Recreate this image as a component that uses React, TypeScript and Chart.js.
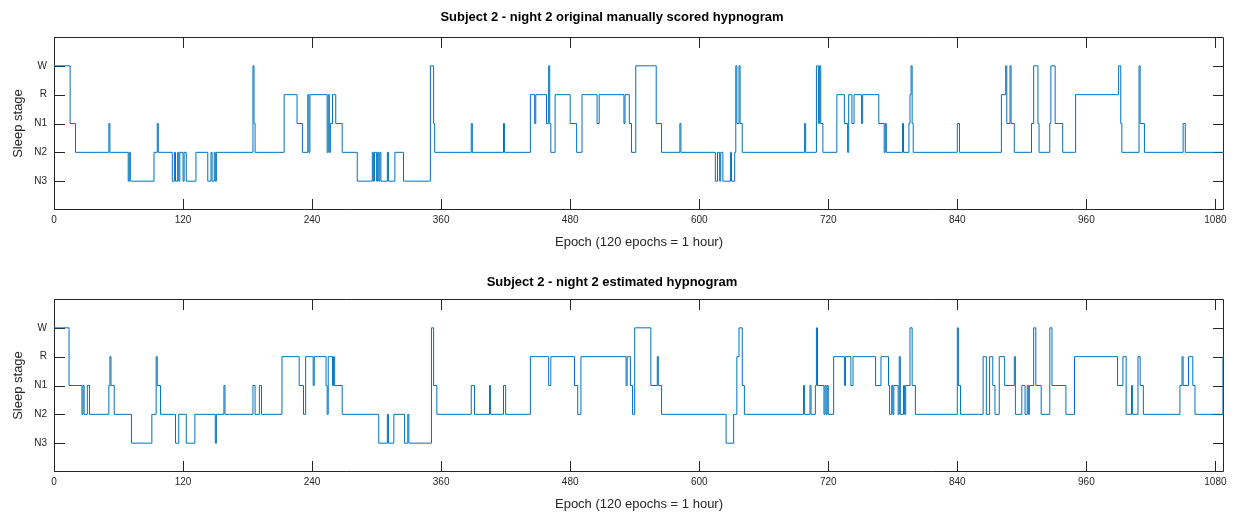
import React, { useEffect, useRef } from 'react';
import { Chart, registerables } from 'chart.js';

Chart.register(...registerables);

const stageLevels = ['N3', 'N2', 'N1', 'R', 'W'];
const xTickValues = [0, 120, 240, 360, 480, 600, 720, 840, 960, 1080];
const totalEpochs = 1088;

const manualTitle = 'Subject 2 - night 2 original manually scored hypnogram';
const estimatedTitle = 'Subject 2 - night 2 estimated hypnogram';
const xAxisLabel = 'Epoch (120 epochs = 1 hour)';
const yAxisLabel = 'Sleep stage';

// epochs where the manually scored stage changes, and the stage from that epoch on
const manualStart = [
  0, 15, 20, 51, 52, 69, 70, 71, 93, 96, 97, 110, 112, 113, 115, 116, 117, 120, 121, 123,
  132, 143, 146, 147, 149, 150, 151, 185, 186, 187, 214, 226, 231, 236, 237, 238, 254, 255, 256, 257,
  259, 262, 268, 282, 296, 297, 298, 300, 301, 302, 303, 304, 310, 311, 317, 325, 350, 353, 354, 388,
  389, 418, 419, 443, 447, 448, 458, 460, 461, 462, 466, 480, 486, 491, 505, 507, 530, 531, 535, 537,
  541, 560, 565, 582, 583, 615, 617, 619, 620, 622, 629, 630, 633, 634, 635, 637, 638, 640, 698, 699,
  709, 711, 712, 713, 715, 728, 735, 738, 739, 742, 744, 751, 752, 767, 772, 773, 774, 789, 790, 795,
  796, 797, 798, 799, 840, 842, 881, 885, 886, 889, 890, 893, 909, 911, 915, 916, 926, 927, 931, 938,
  950, 990, 992, 993, 1009, 1010, 1014, 1050, 1052,
];
const manualStage = [
  'W', 'N1', 'N2', 'N1', 'N2', 'N3', 'N2', 'N3', 'N2', 'N1', 'N2', 'N3', 'N2', 'N3', 'N2', 'N3', 'N2', 'N3', 'N2', 'N3',
  'N2', 'N3', 'N2', 'N3', 'N2', 'N3', 'N2', 'W', 'N1', 'N2', 'R', 'N1', 'N2', 'R', 'N2', 'R', 'N2', 'R', 'N2', 'N1',
  'R', 'N1', 'N2', 'N3', 'N2', 'N3', 'N2', 'N3', 'N2', 'N3', 'N2', 'N3', 'N2', 'N3', 'N2', 'N3', 'W', 'N1', 'N2', 'N1',
  'N2', 'N1', 'N2', 'R', 'N1', 'R', 'N1', 'W', 'N1', 'N2', 'R', 'N1', 'N2', 'R', 'N1', 'R', 'N1', 'R', 'N1', 'N2',
  'W', 'N1', 'N2', 'N1', 'N2', 'N3', 'N2', 'N3', 'N2', 'N3', 'N2', 'N3', 'N2', 'W', 'N1', 'W', 'N1', 'N2', 'N1', 'N2',
  'W', 'N1', 'W', 'N1', 'N2', 'R', 'N1', 'N2', 'R', 'N1', 'R', 'N1', 'R', 'N1', 'N2', 'N1', 'N2', 'N1', 'N2', 'N1',
  'R', 'W', 'N1', 'N2', 'N1', 'N2', 'R', 'W', 'N1', 'W', 'N1', 'N2', 'N1', 'W', 'N1', 'N2', 'N1', 'W', 'N1', 'N2',
  'R', 'W', 'N1', 'N2', 'W', 'N1', 'N2', 'N1', 'N2',
];

// epochs where the estimated stage changes, and the stage from that epoch on
const estimatedStart = [
  0, 14, 26, 27, 28, 31, 33, 51, 52, 53, 56, 72, 91, 95, 96, 99, 113, 116, 123, 131,
  150, 151, 158, 159, 185, 187, 191, 193, 212, 228, 232, 234, 241, 242, 253, 254, 255, 259, 260, 261,
  268, 302, 310, 311, 316, 326, 329, 330, 351, 353, 356, 388, 391, 405, 406, 418, 420, 443, 460, 462,
  484, 487, 490, 532, 533, 536, 538, 540, 555, 561, 562, 565, 625, 632, 635, 637, 640, 642, 697, 698,
  703, 704, 708, 709, 710, 716, 717, 718, 719, 720, 725, 735, 736, 741, 743, 764, 769, 776, 777, 779,
  780, 781, 785, 786, 787, 790, 791, 792, 796, 798, 801, 840, 841, 843, 864, 867, 870, 873, 875, 879,
  884, 893, 894, 900, 903, 905, 906, 907, 911, 913, 918, 926, 928, 941, 949, 989, 994, 997, 1002, 1003,
  1008, 1010, 1013, 1047, 1049, 1050, 1055, 1059, 1061, 1087,
];
const estimatedStage = [
  'W', 'N1', 'N2', 'N1', 'N2', 'N1', 'N2', 'N1', 'R', 'N1', 'N2', 'N3', 'N2', 'R', 'N1', 'N2', 'N3', 'N2', 'N3', 'N2',
  'N3', 'N2', 'N1', 'N2', 'N1', 'N2', 'N1', 'N2', 'R', 'N1', 'N2', 'R', 'N1', 'R', 'N1', 'N2', 'R', 'N1', 'R', 'N1',
  'N2', 'N3', 'N2', 'N3', 'N2', 'N3', 'N2', 'N3', 'W', 'N1', 'N2', 'N1', 'N2', 'N1', 'N2', 'N1', 'N2', 'R', 'N1', 'R',
  'N1', 'N2', 'R', 'N1', 'R', 'N1', 'N2', 'W', 'N1', 'R', 'N1', 'N2', 'N3', 'N2', 'R', 'W', 'N1', 'N2', 'N1', 'N2',
  'N1', 'N2', 'N1', 'W', 'N1', 'N2', 'N1', 'N2', 'N1', 'N2', 'R', 'N1', 'R', 'N1', 'R', 'N1', 'R', 'N1', 'N2', 'N1',
  'N2', 'N1', 'N2', 'R', 'N2', 'N1', 'N2', 'N1', 'W', 'N1', 'N2', 'W', 'N1', 'N2', 'R', 'N2', 'R', 'N1', 'N2', 'R',
  'N1', 'R', 'N2', 'N1', 'N2', 'N1', 'N2', 'N1', 'W', 'N1', 'N2', 'W', 'N1', 'N2', 'R', 'N1', 'R', 'N2', 'N1', 'N2',
  'R', 'N1', 'N2', 'N1', 'R', 'N1', 'R', 'N1', 'N2', 'R',
];

const FONT = '"Liberation Sans", Arial, Helvetica, sans-serif';
const AXIS_COLOR = '#262626';
const LINE_COLOR = '#0072BD';

function buildPoints(starts: number[], stages: string[]) {
  const pts = starts.map((s, i) => ({ x: s, y: stageLevels.indexOf(stages[i]) }));
  pts.push({ x: totalEpochs, y: stageLevels.indexOf(stages[stages.length - 1]) });
  return pts;
}

const boxPlugin = {
  id: 'matlabBox',
  beforeDatasetsDraw(chart: any) {
    const { ctx, chartArea, scales } = chart;
    const { left, right, top, bottom } = chartArea;
    const tl = 11;
    ctx.save();
    ctx.strokeStyle = AXIS_COLOR;
    ctx.lineWidth = 1;
    ctx.beginPath();
    ctx.rect(left + 0.5, top + 0.5, right - left - 1, bottom - top - 1);
    scales.x.ticks.forEach((t: any) => {
      const px = Math.round(scales.x.getPixelForValue(t.value)) + 0.5;
      ctx.moveTo(px, bottom);
      ctx.lineTo(px, bottom - tl);
      ctx.moveTo(px, top);
      ctx.lineTo(px, top + tl);
    });
    scales.y.ticks.forEach((t: any) => {
      const py = Math.round(scales.y.getPixelForValue(t.value)) + 0.5;
      ctx.moveTo(left, py);
      ctx.lineTo(left + tl, py);
      ctx.moveTo(right, py);
      ctx.lineTo(right - tl, py);
    });
    ctx.stroke();
    ctx.restore();
  },
};

type Props = {
  title: string;
  starts: number[];
  stages: string[];
  height: number;
  titlePadTop: number;
  titlePadBottom: number;
  xAxisHeight: number;
  xTitlePadBottom: number;
};

function Hypnogram({ title, starts, stages, height, titlePadTop, titlePadBottom, xAxisHeight, xTitlePadBottom }: Props) {
  const ref = useRef<HTMLCanvasElement | null>(null);
  useEffect(() => {
    if (!ref.current) return;
    const chart = new Chart(ref.current, {
      type: 'line',
      data: {
        datasets: [
          {
            data: buildPoints(starts, stages),
            borderColor: LINE_COLOR,
            borderWidth: 1,
            pointRadius: 0,
            stepped: true,
            fill: false,
            tension: 0,
          },
        ],
      },
      options: {
        animation: false,
        responsive: false,
        events: [],
        layout: { padding: { left: 0, right: 14, top: 0, bottom: 0 } },
        plugins: {
          legend: { display: false },
          tooltip: { enabled: false },
          title: {
            display: true,
            text: title,
            color: '#000000',
            font: { family: FONT, size: 13, weight: 'bold', lineHeight: '16px' },
            padding: { top: titlePadTop, bottom: titlePadBottom },
          },
        },
        scales: {
          x: {
            type: 'linear',
            min: 0,
            max: totalEpochs,
            afterBuildTicks: (s: any) => {
              s.ticks = xTickValues.map((v) => ({ value: v }));
            },
            afterFit: (s: any) => {
              s.height = xAxisHeight;
            },
            ticks: {
              autoSkip: false,
              maxRotation: 0,
              padding: 4,
              color: AXIS_COLOR,
              font: { family: FONT, size: 10 },
              callback: (v: any) => String(v),
            },
            grid: { display: false, drawTicks: false },
            border: { display: false },
            title: {
              display: true,
              text: xAxisLabel,
              color: AXIS_COLOR,
              font: { family: FONT, size: 13, lineHeight: '16px' },
              padding: { top: 0, bottom: xTitlePadBottom },
            },
          },
          y: {
            type: 'linear',
            min: -1,
            max: 5,
            afterBuildTicks: (s: any) => {
              s.ticks = stageLevels.map((_, i) => ({ value: i }));
            },
            afterFit: (s: any) => {
              s.width = 54;
            },
            ticks: {
              autoSkip: false,
              padding: 7,
              color: AXIS_COLOR,
              font: { family: FONT, size: 10 },
              callback: (v: any) => (stageLevels[v] !== undefined ? stageLevels[v] : ''),
            },
            grid: { display: false, drawTicks: false },
            border: { display: false },
            title: {
              display: true,
              text: yAxisLabel,
              color: AXIS_COLOR,
              font: { family: FONT, size: 13, lineHeight: '16px' },
              padding: { top: 10, bottom: 0 },
            },
          },
        },
      },
      plugins: [boxPlugin],
    } as any);
    return () => chart.destroy();
  }, [title, starts, stages, height, titlePadTop, titlePadBottom, xAxisHeight, xTitlePadBottom]);

  return <canvas ref={ref} width={1238} height={height} style={{ display: 'block', width: 1238, height }} />;
}

export default function App() {
  return (
    <div style={{ position: 'fixed', left: 0, top: 0, width: 1238, height: 514, background: '#ffffff' }}>
      <Hypnogram
        title={manualTitle}
        starts={manualStart}
        stages={manualStage}
        height={257}
        titlePadTop={9}
        titlePadBottom={12}
        xAxisHeight={47}
        xTitlePadBottom={7}
      />
      <Hypnogram
        title={estimatedTitle}
        starts={estimatedStart}
        stages={estimatedStage}
        height={257}
        titlePadTop={17}
        titlePadBottom={9}
        xAxisHeight={42}
        xTitlePadBottom={2}
      />
    </div>
  );
}
